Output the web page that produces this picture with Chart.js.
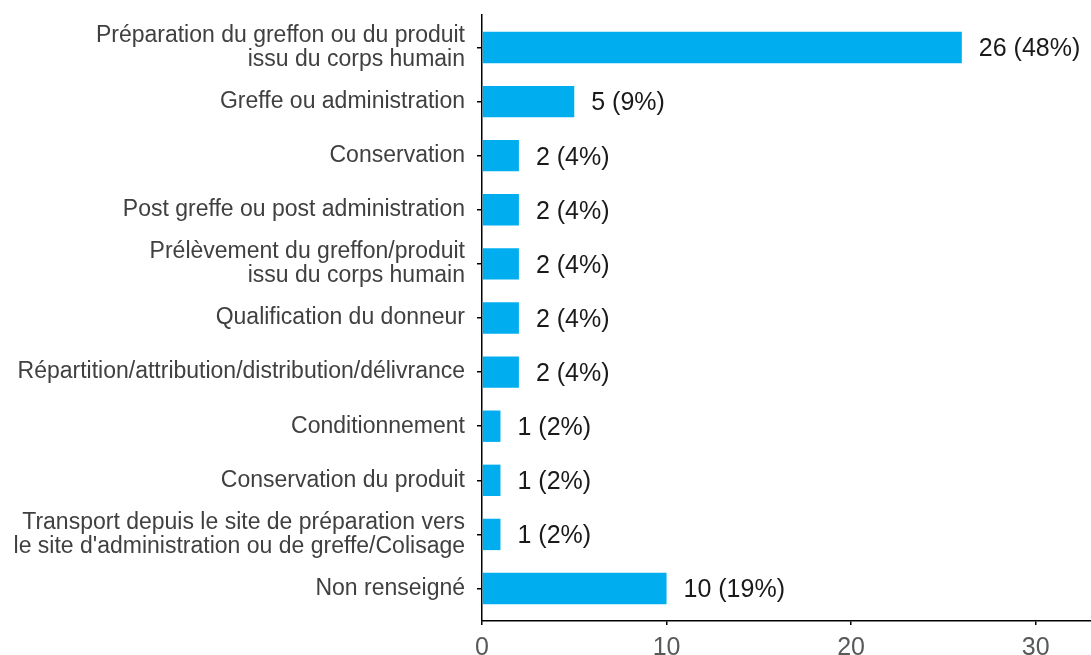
<!DOCTYPE html>
<html lang="fr">
<head>
<meta charset="utf-8">
<title>Étapes de survenue</title>
<script src="https://cdn.jsdelivr.net/npm/chart.js@4.4.1/dist/chart.umd.min.js"></script>
<style>
  html, body { margin: 0; padding: 0; background: #fff; }
  #wrap { position: relative; width: 1091px; height: 655px; }
</style>
</head>
<body>
<div id="wrap"><canvas id="chart"></canvas></div>
<script>
// Étapes de survenue et nombre de déclarations
const etapes = [
  ['Préparation du greffon ou du produit', 'issu du corps humain'],
  'Greffe ou administration',
  'Conservation',
  'Post greffe ou post administration',
  ['Prélèvement du greffon/produit', 'issu du corps humain'],
  'Qualification du donneur',
  'Répartition/attribution/distribution/délivrance',
  'Conditionnement',
  'Conservation du produit',
  ['Transport depuis le site de préparation vers', "le site d'administration ou de greffe/Colisage"],
  'Non renseigné'
];
const nombres = [26, 5, 2, 2, 2, 2, 2, 1, 1, 1, 10];
const pourcentages = [48, 9, 4, 4, 4, 4, 4, 2, 2, 2, 19];
const graduationsX = [0, 10, 20, 30];

const police = "'Liberation Sans', Arial, sans-serif";

// Texte "n (x%)" au bout de chaque barre
const etiquettesValeurs = {
    id: 'etiquettesValeurs',
    afterDatasetsDraw(chart) {
        const ctx = chart.ctx;
        const meta = chart.getDatasetMeta(0);
        ctx.save();
        ctx.font = '25px ' + police;
        ctx.fillStyle = '#1a1a1a';
        ctx.textAlign = 'left';
        ctx.textBaseline = 'middle';
        meta.data.forEach((barre, i) => {
            ctx.fillText(nombres[i] + ' (' + pourcentages[i] + '%)', barre.x + 17, barre.y + 2);
        });
        ctx.restore();
    }
};

new Chart(document.getElementById('chart'), {
    type: 'bar',
    data: {
        datasets: [{
            data: nombres.map((n, i) => ({ x: n, y: i })),
            backgroundColor: '#00aeef',
            borderWidth: 0,
            barPercentage: 0.58,
            categoryPercentage: 1
        }]
    },
    options: {
        indexAxis: 'y',
        responsive: true,
        maintainAspectRatio: false,
        animation: false,
        layout: { padding: { top: 15, right: 0, bottom: 0, left: 0 } },
        plugins: {
            legend: { display: false },
            tooltip: { enabled: false }
        },
        scales: {
            x: {
                type: 'linear',
                min: 0,
                max: 33,
                afterBuildTicks: axe => { axe.ticks = graduationsX.map(v => ({ value: v })); },
                border: { color: '#000', width: 1.5 },
                grid: { drawOnChartArea: false, tickLength: 4, color: '#000', lineWidth: 1.5 },
                ticks: { font: { family: police, size: 25 }, color: '#595959', padding: 8 },
                afterFit: axe => {
                    axe.height = 34;
                    axe.paddingLeft = 0;
                    axe.paddingRight = 0;
                }
            },
            y: {
                type: 'linear',
                reverse: true,
                offset: false,
                min: -0.6,
                max: 10.6,
                afterBuildTicks: axe => { axe.ticks = etapes.map((_, i) => ({ value: i })); },
                border: { color: '#000', width: 1.5 },
                grid: { offset: false, drawOnChartArea: false, tickLength: 5, color: '#000', lineWidth: 1.5 },
                ticks: {
                    autoSkip: false,
                    callback: v => etapes[v],
                    font: { family: police, size: 23, lineHeight: 1.05 },
                    color: '#404040',
                    padding: 12
                },
                afterFit: axe => {
                    axe.width = 482;
                    axe.paddingTop = 0;
                    axe.paddingBottom = 0;
                }
            }
        }
    },
    plugins: [etiquettesValeurs]
});
</script>
</body>
</html>
